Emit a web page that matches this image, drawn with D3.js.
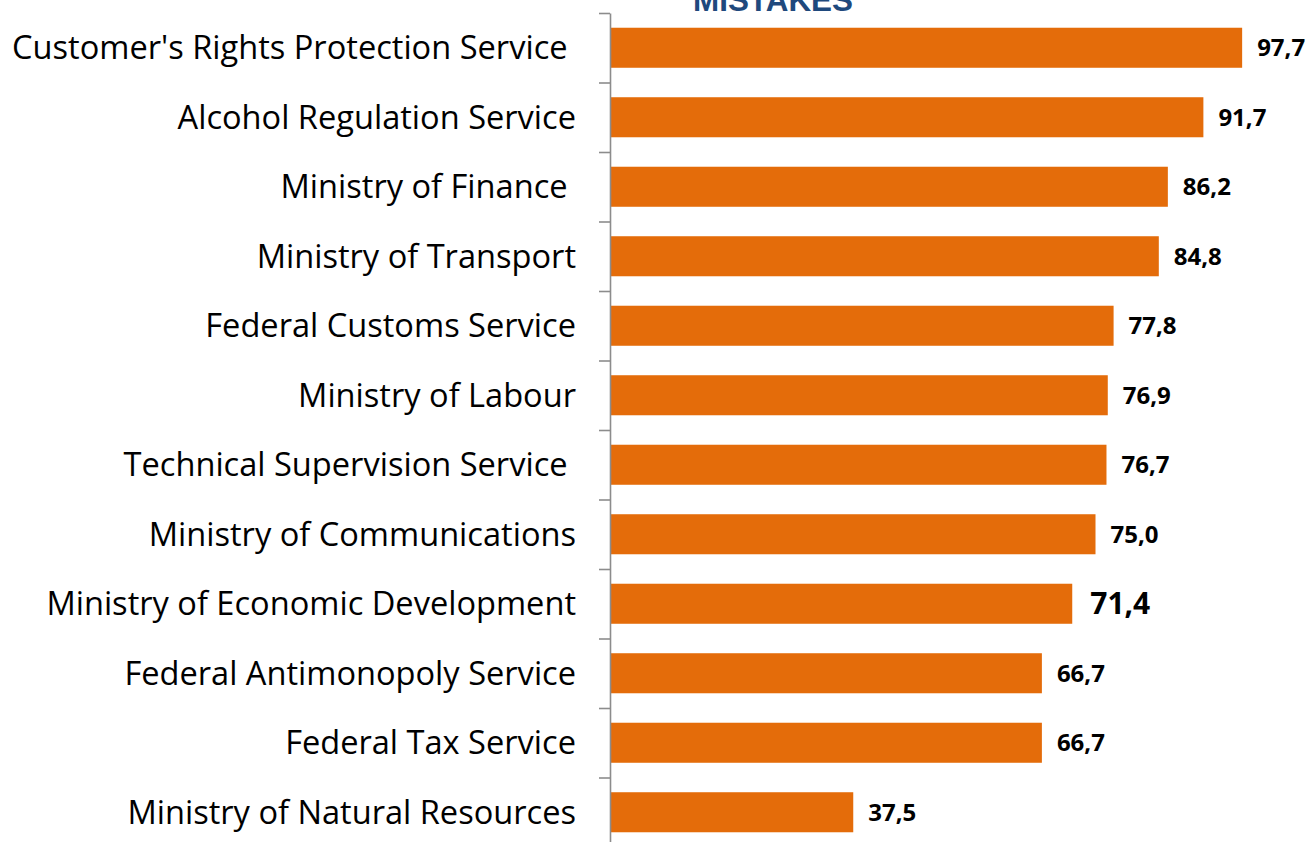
<!DOCTYPE html>
<html>
<head>
<meta charset="utf-8">
<script src="https://cdn.jsdelivr.net/npm/d3@7"></script>
<style>
html,body{margin:0;padding:0;background:#fff;}
svg{display:block;}
</style>
</head>
<body>
<svg id="chart" width="1314" height="842"></svg>
<script>
const categories = [
  "Customer's Rights Protection Service ",
  "Alcohol Regulation Service",
  "Ministry of Finance ",
  "Ministry of Transport",
  "Federal Customs Service",
  "Ministry of Labour",
  "Technical Supervision Service ",
  "Ministry of Communications",
  "Ministry of Economic Development",
  "Federal Antimonopoly Service",
  "Federal Tax Service",
  "Ministry of Natural Resources"
];
const values = [97.7, 91.7, 86.2, 84.8, 77.8, 76.9, 76.7, 75.0, 71.4, 66.7, 66.7, 37.5];
const valueLabels = ["97,7","91,7","86,2","84,8","77,8","76,9","76,7","75,0","71,4","66,7","66,7","37,5"];
const highlighted = ["Ministry of Economic Development"];
const title = "MISTAKES";

const svg = d3.select("#chart");
const x = d3.scaleLinear().domain([0, 100]).range([611, 1257]);
const y = d3.scaleBand().domain(categories).range([13, 847]).paddingInner(0.424).paddingOuter(0.212);
const yEdge = d3.scaleLinear().domain([0, categories.length]).range([13, 847]);

// title
svg.append("text")
  .attr("x", 773).attr("y", 11)
  .attr("text-anchor", "middle")
  .attr("font-family", "Liberation Sans, Arial, sans-serif")
  .attr("font-weight", "bold")
  .attr("font-size", 31.4)
  .attr("fill", "#1F497D")
  .text(title);

// bars
svg.append("g").selectAll("rect").data(categories).join("rect")
  .attr("x", x(0))
  .attr("y", d => y(d))
  .attr("width", (d, i) => x(values[i]) - x(0))
  .attr("height", y.bandwidth())
  .attr("fill", "#E46C0A");

// axis
const axis = svg.append("g")
  .attr("transform", "translate(610,0)")
  .call(d3.axisLeft(yEdge).tickValues(d3.range(0, categories.length + 1)).tickFormat("").tickSize(11).tickSizeOuter(0));
axis.selectAll("path,line").attr("stroke", "#8c8c8c").attr("stroke-width", 1.6);

// category labels
svg.append("g").selectAll("text").data(categories).join("text")
  .attr("x", 576)
  .attr("y", d => y(d) + y.bandwidth() / 2)
  .attr("dy", "0.35em")
  .attr("text-anchor", "end")
  .style("white-space", "pre")
  .attr("font-family", "Open Sans, sans-serif")
  .attr("font-size", 32.6)
  .attr("fill", "#000")
  .text(d => d);

// value labels
svg.append("g").selectAll("text").data(categories).join("text")
  .attr("x", (d, i) => x(values[i]) + (highlighted.includes(d) ? 18 : 15))
  .attr("y", d => y(d) + y.bandwidth() / 2)
  .attr("dy", "0.35em")
  .attr("font-family", "Open Sans, sans-serif")
  .attr("font-weight", "bold")
  .attr("font-size", d => highlighted.includes(d) ? 30 : 24)
  .attr("fill", "#000")
  .text((d, i) => valueLabels[i]);
</script>
</body>
</html>
